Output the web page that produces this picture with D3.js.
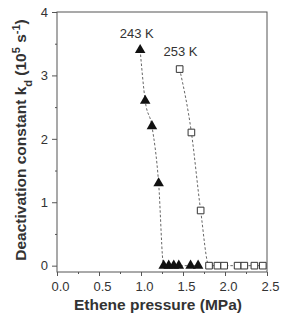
<!DOCTYPE html>
<html>
<head>
<meta charset="utf-8">
<style>
  body { margin: 0; background: #fff; }
  svg { display: block; font-family: Arial, "Liberation Sans", sans-serif; }
  .axis text { font-size: 13px; fill: #333; }
  .axis line { stroke: #555; }
  .axis path { display: none; }
  .frame { fill: none; stroke: #555; stroke-width: 1; }
  .fit { fill: none; stroke: #666; stroke-width: 1; stroke-dasharray: 2.5,2; }
  .title { font-weight: bold; fill: #333; }
</style>
</head>
<body>
<svg width="283" height="318"></svg>
<script src="https://cdn.jsdelivr.net/npm/d3@7"></script>
<script>
// 243 K, filled triangles
var p243 = [0.99, 1.05, 1.13, 1.21, 1.27, 1.33, 1.39, 1.45, 1.59, 1.68];
var k243 = [3.4, 2.6, 2.2, 1.3, 0, 0, 0, 0, 0, 0];
// 253 K, open squares
var p253 = [1.46, 1.60, 1.71, 1.81, 1.91, 1.99, 2.15, 2.23, 2.35, 2.45];
var k253 = [3.1, 2.1, 0.87, 0, 0, 0, 0, 0, 0, 0];

var xTicks = [0, 0.5, 1, 1.5, 2, 2.5];
var yTicks = [0, 1, 2, 3, 4];

var svg = d3.select("svg"),
    margin = {top: 12, right: 16, bottom: 46, left: 57},
    width = +svg.attr("width") - margin.left - margin.right,
    height = +svg.attr("height") - margin.top - margin.bottom;

var x = d3.scaleLinear().domain([0, 2.5]).range([0, width]),
    y = d3.scaleLinear().domain([-0.1, 4]).range([height, 0]);

var g = svg.append("g")
    .attr("transform", "translate(" + margin.left + "," + margin.top + ")");

// minor ticks
g.append("g")
    .attr("class", "axis")
    .attr("transform", "translate(0," + height + ")")
    .call(d3.axisBottom(x).tickValues(d3.range(0.25, 2.5, 0.5)).tickSize(2).tickFormat(""));
g.append("g")
    .attr("class", "axis")
    .call(d3.axisLeft(y).tickValues(d3.range(0.5, 4, 1)).tickSize(2).tickFormat(""));

// major ticks
var xa = g.append("g")
    .attr("class", "axis")
    .attr("transform", "translate(0," + height + ")")
    .call(d3.axisBottom(x).tickValues(xTicks).tickSize(4).tickPadding(6).tickFormat(d3.format(".1f")));
xa.selectAll("text").attr("dx", 3);

g.append("g")
    .attr("class", "axis")
    .call(d3.axisLeft(y).tickValues(yTicks).tickSize(5).tickPadding(4).tickFormat(d3.format("d")));

g.append("rect")
    .attr("class", "frame")
    .attr("width", width)
    .attr("height", height);

var line = d3.line()
    .curve(d3.curveMonotoneX)
    .x(function(d) { return x(d[0]); })
    .y(function(d) { return y(d[1]); });

var d243 = d3.zip(p243, k243),
    d253 = d3.zip(p253, k253);

g.append("path").datum(d243).attr("class", "fit").attr("d", line);
g.append("path").datum(d253).attr("class", "fit").attr("d", line);

g.selectAll(".tri")
    .data(d243)
  .enter().append("path")
    .attr("class", "tri")
    .attr("d", d3.symbol().type(d3.symbolTriangle).size(48))
    .attr("transform", function(d) { return "translate(" + x(d[0]) + "," + y(d[1]) + ")"; })
    .attr("fill", "#111");

g.selectAll(".sq")
    .data(d253)
  .enter().append("path")
    .attr("class", "sq")
    .attr("d", d3.symbol().type(d3.symbolSquare).size(44))
    .attr("transform", function(d) { return "translate(" + x(d[0]) + "," + y(d[1]) + ")"; })
    .attr("fill", "#fff")
    .attr("stroke", "#333")
    .attr("stroke-width", 1);

// series labels
g.append("text")
    .attr("x", x(0.95)).attr("y", 26)
    .attr("text-anchor", "middle")
    .style("font-size", "13px").style("fill", "#333")
    .text("243 K");
g.append("text")
    .attr("x", x(1.47)).attr("y", 44)
    .attr("text-anchor", "middle")
    .style("font-size", "13px").style("fill", "#333")
    .text("253 K");

// axis titles
svg.append("text")
    .attr("class", "title")
    .attr("x", margin.left + width / 2 - 4)
    .attr("y", 310)
    .attr("text-anchor", "middle")
    .style("font-size", "15.5px")
    .text("Ethene pressure (MPa)");

var yt = svg.append("text")
    .attr("class", "title")
    .attr("transform", "translate(26,140) rotate(-90)")
    .attr("text-anchor", "middle")
    .style("font-size", "15.5px");
yt.append("tspan").text("Deactivation constant k");
yt.append("tspan").attr("baseline-shift", "sub").style("font-size", "11px").text("d");
yt.append("tspan").text(" (10");
yt.append("tspan").attr("baseline-shift", "super").style("font-size", "11px").text("5");
yt.append("tspan").text(" s");
yt.append("tspan").attr("baseline-shift", "super").style("font-size", "11px").text("-1");
yt.append("tspan").text(")");
</script>
</body>
</html>
